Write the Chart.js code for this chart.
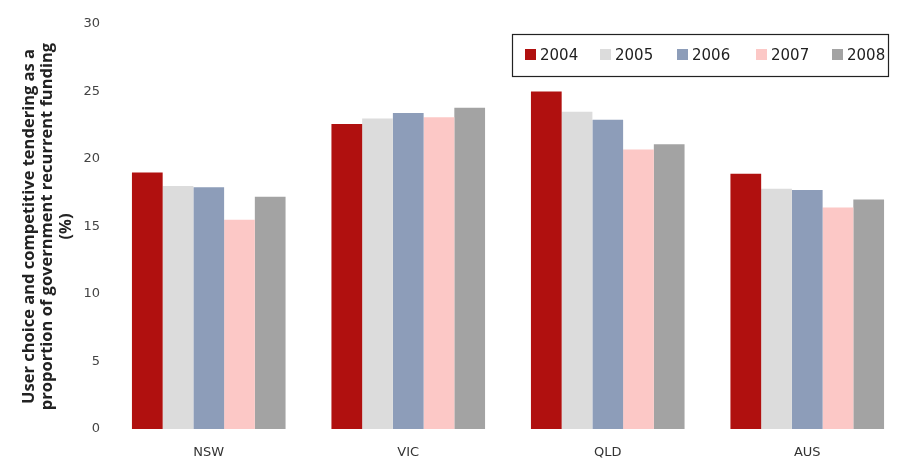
<!DOCTYPE html>
<html>
<head>
<meta charset="utf-8">
<script src="https://cdn.jsdelivr.net/npm/chart.js@4"></script>
<style>
  html, body { margin: 0; padding: 0; background: #ffffff; }
  #wrap { width: 909px; height: 459px; position: relative; }
</style>
</head>
<body>
<div id="wrap"><canvas id="c" width="909" height="459"></canvas></div>
<script>
// Jurisdictions and years
const categories = ['NSW', 'VIC', 'QLD', 'AUS'];
const years = ['2004', '2005', '2006', '2007', '2008'];

// User choice and competitive tendering share (%) by year, in category order
const v2004 = [19.0, 22.6, 25.0, 18.9];
const v2005 = [18.0, 23.0, 23.5, 17.8];
const v2006 = [17.9, 23.4, 22.9, 17.7];
const v2007 = [15.5, 23.1, 20.7, 16.4];
const v2008 = [17.2, 23.8, 21.1, 17.0];

const yTicks = [0, 5, 10, 15, 20, 25, 30];

const seriesValues = [v2004, v2005, v2006, v2007, v2008];
const colors = ['#b0100f', '#dcdcdc', '#8d9db9', '#fcc8c6', '#a3a3a3'];

const FONT = '"DejaVu Sans", Verdana, sans-serif';
const TITLE_FONT = '"Open Sans", "DejaVu Sans", sans-serif';

// Boxed legend drawn in the upper right of the plot
const boxedLegend = {
  id: 'boxedLegend',
  afterDraw(chart) {
    const ctx = chart.ctx;
    const x0 = 512, y0 = 34, w = 376, h = 42;
    ctx.save();
    ctx.fillStyle = '#ffffff';
    ctx.fillRect(x0, y0, w, h);
    ctx.strokeStyle = '#222222';
    ctx.lineWidth = 1.2;
    ctx.strokeRect(x0 + 0.5, y0 + 0.5, w, h);
    ctx.font = '15px ' + FONT;
    ctx.textBaseline = 'middle';
    const starts = [525, 600, 677, 756, 832];
    chart.data.datasets.forEach((ds, i) => {
      const sx = starts[i];
      ctx.fillStyle = ds.backgroundColor;
      ctx.fillRect(sx, y0 + h / 2 - 6, 11, 11);
      ctx.fillStyle = '#222222';
      ctx.fillText(ds.label, sx + 15, y0 + h / 2 + 1);
    });
    ctx.restore();
  }
};

new Chart(document.getElementById('c'), {
  type: 'bar',
  data: {
    labels: categories,
    datasets: years.map((y, i) => ({
      label: y,
      data: seriesValues[i],
      backgroundColor: colors[i],
      borderWidth: 0,
      categoryPercentage: 0.77,
      barPercentage: 1.0
    }))
  },
  options: {
    responsive: false,
    animation: false,
    layout: { padding: { top: 24, right: 2, bottom: 0, left: 0 } },
    plugins: {
      legend: { display: false },
      tooltip: { enabled: false }
    },
    scales: {
      x: {
        grid: { display: false, drawTicks: false },
        border: { display: false },
        ticks: { color: '#333333', font: { family: FONT, size: 13 }, padding: 16 },
        afterFit(scale) { scale.height = 30; }
      },
      y: {
        min: 0,
        max: 30,
        afterBuildTicks(scale) { scale.ticks = yTicks.map(v => ({ value: v })); },
        grid: { display: false, drawTicks: false },
        border: { display: false },
        ticks: { color: '#444444', font: { family: FONT, size: 13 }, padding: 9 },
        title: {
          display: true,
          text: ['User choice and competitive tendering as a',
                 'proportion of government recurrent funding',
                 '(%)'],
          color: '#222222',
          font: { family: TITLE_FONT, size: 16.5, weight: 'bold', lineHeight: 1.12 },
          padding: { top: 20, bottom: 0 }
        },
        afterFit(scale) { scale.width = 109; }
      }
    }
  },
  plugins: [boxedLegend]
});
</script>
</body>
</html>
